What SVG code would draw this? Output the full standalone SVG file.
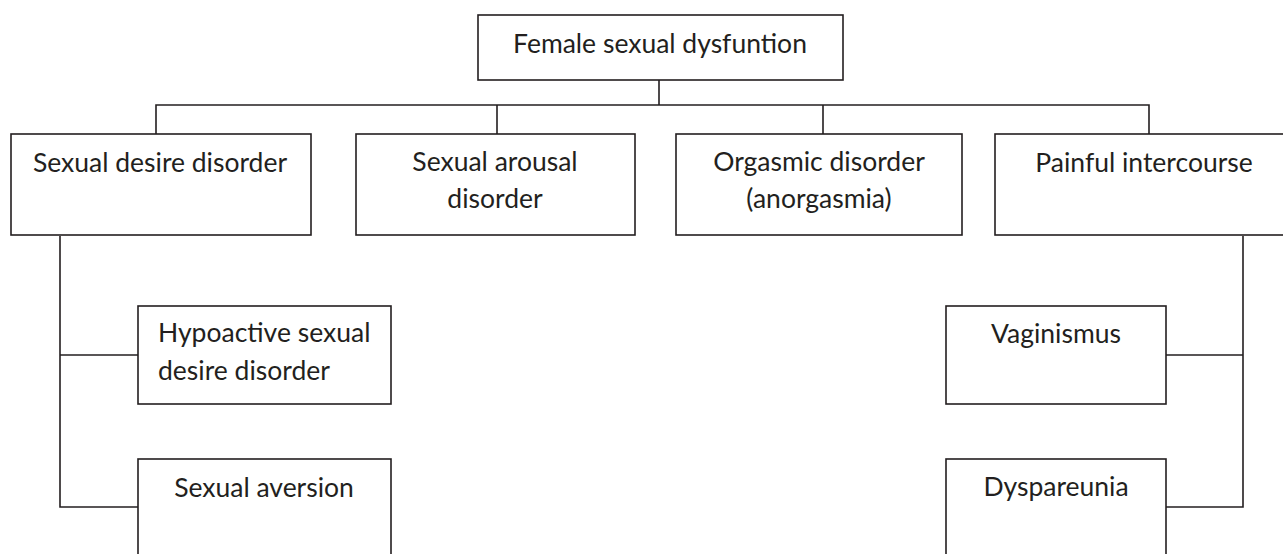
<svg xmlns="http://www.w3.org/2000/svg" width="1283" height="554" viewBox="0 0 1283 554">
<style>
rect{fill:#fff;stroke:#231f20;stroke-width:1.6}
.c path{fill:none;stroke:#231f20;stroke-width:1.6}
text{font-family:Lato,"Open Sans","Liberation Sans",sans-serif;font-size:26.5px;fill:#231f20;text-anchor:middle}
</style>
<rect x="0" y="0" width="1283" height="554" style="stroke:none"/>
<g class="c" id="connectors">
<path d="M659 80V105M156 134V105H1149V134M497 105V134M823 105V134"/>
<path d="M60 236V507H138M60 355H138"/>
<path d="M1243 236V507H1166M1243 355H1166"/>
</g>
<g id="n0"><rect x="478" y="15" width="365" height="65"/><text x="660" y="53">Female sexual dysfuntion</text></g>
<g id="n1"><rect x="11" y="134" width="300" height="101"/><text x="160" y="172">Sexual desire disorder</text></g>
<g id="n2"><rect x="356" y="134" width="279" height="101"/><text x="495" y="171">Sexual arousal</text><text x="495" y="208">disorder</text></g>
<g id="n3"><rect x="676" y="134" width="286" height="101"/><text x="819" y="171">Orgasmic disorder</text><text x="819" y="208">(anorgasmia)</text></g>
<g id="n4"><rect x="995" y="134" width="300" height="101"/><text x="1144" y="172">Painful intercourse</text></g>
<g id="n5"><rect x="138" y="306" width="253" height="98"/><text x="158" y="342" style="text-anchor:start">Hypoactive sexual</text><text x="158" y="380" style="text-anchor:start">desire disorder</text></g>
<g id="n6"><rect x="138" y="459" width="253" height="110"/><text x="264" y="497">Sexual aversion</text></g>
<g id="n7"><rect x="946" y="306" width="220" height="98"/><text x="1056" y="343">Vaginismus</text></g>
<g id="n8"><rect x="946" y="459" width="220" height="110"/><text x="1056" y="496">Dyspareunia</text></g>
</svg>
